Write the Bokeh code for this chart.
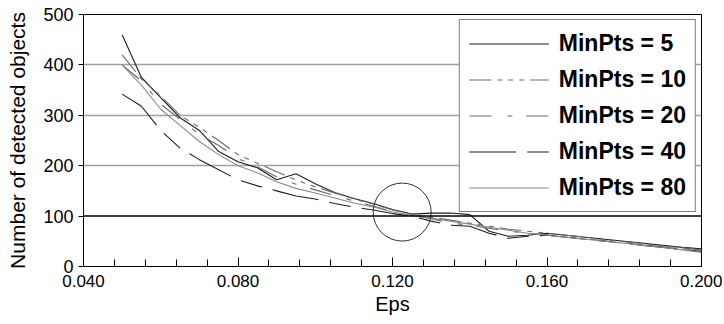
from bokeh.plotting import figure
from bokeh.models import (ColumnDataSource, Legend, LegendItem, SingleIntervalTicker,
                          FixedTicker, NumeralTickFormatter, Span, Range1d)
from bokeh.embed import file_html
from bokeh.resources import INLINE

eps = [0.050, 0.055, 0.060, 0.065, 0.070, 0.075, 0.080, 0.085, 0.090, 0.095, 0.100,
       0.105, 0.110, 0.115, 0.120, 0.125, 0.130, 0.135, 0.140, 0.145, 0.150, 0.155,
       0.160, 0.165, 0.170, 0.175, 0.180, 0.185, 0.190, 0.195, 0.200]

minpts_5 = [460, 375, 335, 295, 270, 228, 208, 196, 172, 184, 164, 147, 135, 125, 113, 104,
            106, 106, 103, 70, 60, 62, 66, 62, 58, 54, 50, 46, 42, 38, 35]
minpts_10 = [420, 372, 338, 300, 276, 250, 222, 205, 188, 172, 158, 146, 134, 124, 112, 103,
             98, 92, 86, 80, 74, 70, 66, 62, 58, 53, 49, 45, 41, 37, 33]
minpts_20 = [400, 368, 322, 292, 262, 240, 214, 198, 178, 163, 152, 141, 130, 120, 109, 101,
             95, 86, 82, 76, 70, 66, 63, 59, 55, 51, 47, 43, 39, 35, 31]
minpts_40 = [342, 318, 270, 235, 212, 192, 172, 160, 150, 140, 134, 125, 118, 112, 105, 100,
             90, 82, 80, 66, 56, 60, 62, 58, 54, 50, 46, 42, 38, 34, 30]
minpts_80 = [400, 360, 312, 280, 248, 222, 200, 186, 168, 155, 146, 136, 126, 118, 108, 101,
             96, 90, 84, 78, 72, 66, 62, 58, 54, 50, 46, 42, 38, 33, 28]

labels = ["MinPts = 5", "MinPts = 10", "MinPts = 20", "MinPts = 40", "MinPts = 80"]
y_ticks = [0, 100, 200, 300, 400, 500]

circle_eps = [0.1225]
circle_val = [108]

FONT = "Liberation Sans"

p = figure(width=722, height=320, output_backend="svg", toolbar_location=None,
           x_range=Range1d(0.04, 0.20), y_range=Range1d(0, 500),
           min_border_left=83, min_border_right=21, min_border_top=14, min_border_bottom=54)
p.background_fill_color = "white"
p.border_fill_color = "white"
p.outline_line_color = "black"
p.outline_line_width = 1

series = [minpts_5, minpts_10, minpts_20, minpts_40, minpts_80]
colors = ["#1e1e1e", "#6a6a6a", "#6a6a6a", "#1e1e1e", "#8a8a8a"]
dashes = ["solid", "22 6 5 6 5 6 5 6", "22 16 5 14", "47 11 22 11", "solid"]

items = []
for s, c, d, lab in zip(series, colors, dashes, labels):
    src = ColumnDataSource(dict(x=eps, y=s))
    r = p.line("x", "y", source=src, line_color=c, line_width=1.1, line_dash=d)
    items.append(LegendItem(label=lab, renderers=[r]))

# highlight circle
p.scatter(circle_eps, circle_val, marker="circle", size=58, fill_color=None,
          line_color="#303030", line_width=1)

# black 100 line
p.add_layout(Span(location=100, dimension="width", line_color="black", line_width=1.5))

# axes
p.xaxis.ticker = SingleIntervalTicker(interval=0.04, num_minor_ticks=5)
p.xaxis.formatter = NumeralTickFormatter(format="0.000")
p.xaxis.major_tick_in = 9
p.xaxis.major_tick_out = 0
p.xaxis.minor_tick_in = 7
p.xaxis.minor_tick_out = 0
p.xaxis.major_tick_line_color = "black"
p.xaxis.minor_tick_line_color = "black"
p.xaxis.major_label_standoff = 8
p.xaxis.axis_label = "Eps"
p.xaxis.axis_label_standoff = 3
p.xaxis.axis_label_text_font_style = "normal"

p.yaxis.ticker = FixedTicker(ticks=y_ticks)
p.yaxis.major_tick_in = 0
p.yaxis.major_tick_out = 5
p.yaxis.minor_tick_line_color = None
p.yaxis.major_label_standoff = 5
p.yaxis.axis_label = "Number of detected objects"
p.yaxis.axis_label_standoff = 11
p.yaxis.axis_label_text_font_style = "normal"

for ax in (p.xaxis, p.yaxis):
    ax.axis_line_color = "black"
    ax.major_label_text_font = FONT
    ax.major_label_text_color = "black"
    ax.axis_label_text_font = FONT
    ax.axis_label_text_color = "black"
p.xaxis.axis_label_text_font_size = "20px"
p.yaxis.axis_label_text_font_size = "21px"
p.xaxis.major_label_text_font_size = "17px"
p.yaxis.major_label_text_font_size = "18px"

p.xgrid.grid_line_color = None
p.ygrid.ticker = FixedTicker(ticks=[200, 300, 400])
p.ygrid.grid_line_color = "#a0a0a0"
p.ygrid.grid_line_width = 1.5

legend = Legend(items=items, location="top_right")
legend.margin = 5
legend.padding = 9
legend.spacing = 7
legend.label_height = 29
legend.glyph_height = 29
legend.glyph_width = 80
legend.label_standoff = 10
legend.label_text_font = FONT
legend.label_text_font_size = "23px"
legend.label_text_font_style = "bold"
legend.label_text_color = "black"
legend.border_line_color = "black"
legend.border_line_width = 1
legend.background_fill_color = "white"
legend.background_fill_alpha = 1.0
p.add_layout(legend)

open("out.html", "w").write(file_html(p, INLINE))
